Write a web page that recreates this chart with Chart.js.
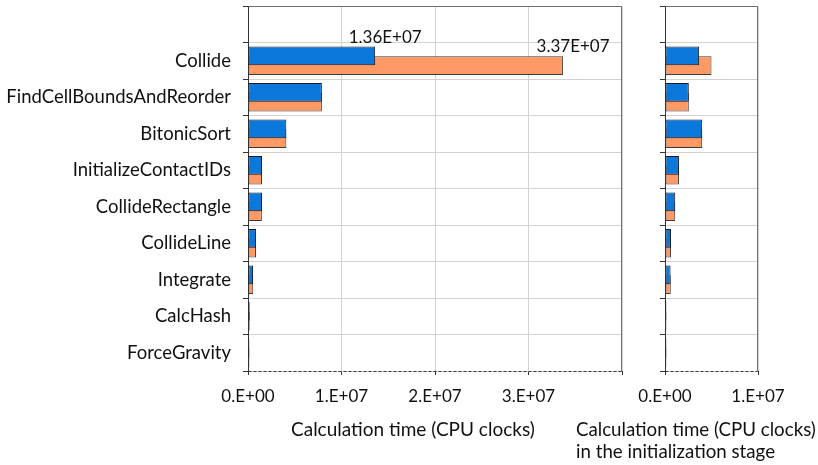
<!DOCTYPE html>
<html>
<head>
<meta charset="utf-8">
<script src="https://cdn.jsdelivr.net/npm/chart.js@4.4.1/dist/chart.umd.min.js"></script>
<style>
  html, body { margin: 0; padding: 0; background: #ffffff; }
  #wrap { position: relative; width: 818px; height: 465px; overflow: hidden; background: #fff; }
  canvas { position: absolute; top: 0; }
  #cL { left: 0; }
  #cR { left: 600px; }
  .ttl { position: absolute; font-family: Lato, "Open Sans", sans-serif; font-size: 19px; color: #111; line-height: 22px; white-space: nowrap; }
</style>
</head>
<body>
<div id="wrap">
  <canvas id="cL" width="640" height="465" style="width:640px;height:465px"></canvas>
  <canvas id="cR" width="218" height="465" style="width:218px;height:465px"></canvas>
  <div class="ttl" id="tL" style="left:291px;top:418px;">Calculation time (CPU clocks)</div>
  <div class="ttl" id="tR" style="left:576px;top:418px;font-size:18.7px;">Calculation time (CPU clocks)<br>in the initialization stage</div>
</div>
<script>
// ---- data ----
const categories = ['Collide', 'FindCellBoundsAndReorder', 'BitonicSort', 'InitializeContactIDs',
  'CollideRectangle', 'CollideLine', 'Integrate', 'CalcHash', 'ForceGravity'];
// total calculation time (CPU clocks)
const totalBlue   = [1.36e7, 7.9e6, 4.1e6, 1.5e6, 1.5e6, 8.6e5, 5.4e5, 1.8e5, 1.5e5];
const totalOrange = [3.37e7, 7.9e6, 4.1e6, 1.5e6, 1.48e6, 8.6e5, 5.6e5, 1.8e5, 1.5e5];
// calculation time in the initialization stage (CPU clocks)
const initBlue    = [3.67e6, 2.56e6, 4.0e6, 1.5e6, 1.1e6, 6.5e5, 6.0e5, 1.5e5, 1.5e5];
const initOrange  = [5.0e6, 2.56e6, 4.0e6, 1.5e6, 1.1e6, 6.5e5, 6.2e5, 1.5e5, 1.5e5];
const leftTicks  = [0, 1e7, 2e7, 3e7];
const rightTicks = [0, 1e7];
const leftMax = 4e7;
const rightMax = 1e7;
const labelledCategory = 'Collide';

// ---- helpers ----
function sci(v, digits) {
  const parts = Number(v).toExponential(digits).split('e');
  const exp = parseInt(parts[1], 10);
  const mant = digits === 0 ? parts[0] + '.' : parts[0];
  return mant + 'E' + (exp < 0 ? '-' : '+') + String(Math.abs(exp)).padStart(2, '0');
}
const FONT = 'Lato, "Open Sans", sans-serif';
const BLUE = '#0b78dc';
const ORANGE = '#ff9966';
// an empty slot above the first category, as in the reference
const labels = [''].concat(categories);
const pad = arr => [null].concat(arr);

const framePlugin = {
  id: 'frame',
  afterDraw(chart) {
    const a = chart.chartArea, ctx = chart.ctx;
    const l = Math.round(a.left) + 0.5, r = Math.round(a.right) - 0.5, t = Math.round(a.top) + 0.5, b = Math.round(a.bottom) + 0.5;
    ctx.save();
    ctx.lineWidth = 1;
    ctx.strokeStyle = '#707070';
    ctx.beginPath();
    ctx.moveTo(l, t); ctx.lineTo(r, t); ctx.lineTo(r, b);
    ctx.stroke();
    ctx.strokeStyle = '#333';
    ctx.setLineDash([3, 2]);
    ctx.beginPath();
    ctx.moveTo(l, b); ctx.lineTo(r, b);
    ctx.stroke();
    ctx.restore();
  }
};

const valueLabelPlugin = {
  id: 'valueLabels',
  afterDatasetsDraw(chart) {
    const idx = chart.data.labels.indexOf(labelledCategory);
    const ctx = chart.ctx;
    ctx.save();
    ctx.font = '17px ' + FONT;
    ctx.fillStyle = '#111';
    ctx.textAlign = 'center';
    ctx.textBaseline = 'bottom';
    chart.data.datasets.forEach((ds, di) => {
      const el = chart.getDatasetMeta(di).data[idx];
      if (!el) return;
      const top = el.y - el.height / 2;
      ctx.fillText(sci(ds.data[idx], 2), el.x + 10, top - 1);
    });
    ctx.restore();
  }
};

function makeChart(id, blue, orange, max, ticksList, yWidth, padRight, showY, plugins) {
  return new Chart(document.getElementById(id), {
    type: 'bar',
    data: {
      labels: labels,
      datasets: [
        { label: 'Series 1', data: pad(blue), backgroundColor: BLUE, borderColor: '#1a1a1a', borderWidth: 1, borderSkipped: false },
        { label: 'Series 2', data: pad(orange), backgroundColor: ORANGE, borderColor: '#3a3a3a', borderWidth: 1, borderSkipped: false }
      ]
    },
    options: {
      indexAxis: 'y',
      responsive: false,
      animation: false,
      devicePixelRatio: 1,
      categoryPercentage: 0.526,
      barPercentage: 1.95,
      layout: { padding: { top: 6, right: padRight, left: 0, bottom: 0 } },
      plugins: { legend: { display: false }, tooltip: { enabled: false } },
      scales: {
        x: {
          min: 0, max: max,
          afterBuildTicks(scale) { scale.ticks = ticksList.concat(max > ticksList[ticksList.length - 1] ? [max] : []).map(v => ({ value: v })); },
          ticks: {
            font: { family: FONT, size: 17 }, color: '#111', padding: 11,
            maxRotation: 0, autoSkip: false,
            callback: (v) => ticksList.indexOf(v) >= 0 ? sci(v, 0) : ''
          },
          grid: { color: '#d2d2d2', tickColor: '#333', tickLength: 4, lineWidth: 1 },
          border: { display: false },
          afterFit(scale) { scale.height = 94; scale.paddingLeft = 0; scale.paddingRight = 0; }
        },
        y: {
          ticks: { display: showY, font: { family: FONT, size: 18.5 }, color: '#111', padding: 12 },
          grid: { offset: true, color: '#d2d2d2', tickColor: '#333', tickLength: 5, lineWidth: 1 },
          border: { color: '#333', width: 1 },
          afterFit(scale) { scale.width = yWidth; scale.paddingTop = 0; scale.paddingBottom = 0; }
        }
      }
    },
    plugins: plugins
  });
}

makeChart('cL', totalBlue, totalOrange, leftMax, leftTicks, 248, 18, true, [framePlugin, valueLabelPlugin]);
makeChart('cR', initBlue, initOrange, rightMax, rightTicks, 65, 60, false, [framePlugin]);
</script>
</body>
</html>
